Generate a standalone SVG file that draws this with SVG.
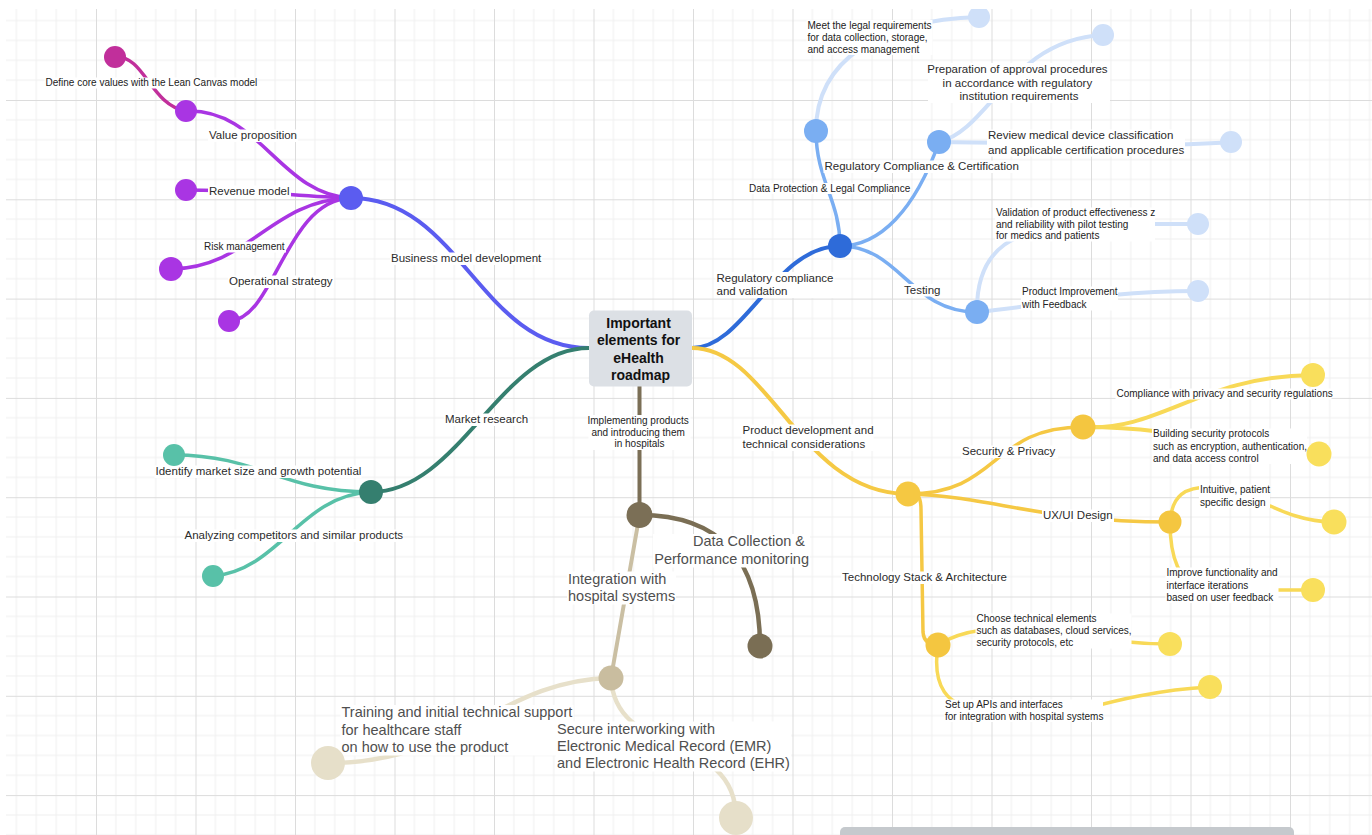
<svg xmlns="http://www.w3.org/2000/svg" width="1372" height="835" viewBox="0 0 1372 835">
  <defs>
    <pattern id="grid" patternUnits="userSpaceOnUse" x="-3.5" y="0.7" width="99.5" height="99.3">
      <path d="M19.9 0V99.3M39.8 0V99.3M59.7 0V99.3M79.6 0V99.3M0 19.86H99.5M0 39.72H99.5M0 59.58H99.5M0 79.44H99.5" stroke="#efefef" stroke-width="1" fill="none"/>
      <path d="M0.5 0V99.3M0 0.5H99.5" stroke="#dcdcdc" stroke-width="1" fill="none"/>
    </pattern>
    <clipPath id="canvas">
      <rect x="6" y="9" width="1366" height="826"/>
    </clipPath>
    <style>
      .c { fill: none; stroke-linecap: round; stroke-linejoin: round; }
      .bg { fill: #ffffff; }
      text { font-family: "Liberation Sans", Arial, sans-serif; }
      .s { font-size: 10px; fill: #222222; }
      .m { font-size: 11.5px; fill: #2b2b2b; }
      .l { font-size: 14.5px; fill: #4f4f4f; }
      .root { font-size: 14px; font-weight: bold; fill: #111111; text-anchor: middle; }
      .mid { text-anchor: middle; }
      .end { text-anchor: end; }
    </style>
  </defs>

  <rect width="1372" height="835" fill="#ffffff"/>
  <rect x="6" y="9" width="1366" height="826" fill="url(#grid)"/>

  <g clip-path="url(#canvas)">
    <!-- branch connectors -->
    <g id="connectors">
      <!-- root to main topics -->
      <path class="c" d="M589,348 C480,348 460,198 351,198" stroke="#5b5cf0" stroke-width="4"/>
      <path class="c" d="M589,348 C500,348 460,492 371,492" stroke="#357f6f" stroke-width="4"/>
      <path class="c" d="M639.5,386 L639.5,515" stroke="#7b6f56" stroke-width="4"/>
      <path class="c" d="M692,348 C745,348 775,246 840,246" stroke="#2e6bd9" stroke-width="4"/>
      <path class="c" d="M692,348 C770,348 800,494 908,494" stroke="#f5c944" stroke-width="4"/>

      <!-- business model -->
      <path class="c" d="M351,198 C280,195 260,108 186,111" stroke="#a935e3" stroke-width="3.5"/>
      <path class="c" d="M351,198 C300,197 260,190 186,190" stroke="#a935e3" stroke-width="3.5"/>
      <path class="c" d="M351,198 C270,200 250,268 171,269" stroke="#a935e3" stroke-width="3.5"/>
      <path class="c" d="M351,198 C285,200 275,320 229,321" stroke="#a935e3" stroke-width="3.5"/>
      <path class="c" d="M186,111 C150,105 145,55 115,57" stroke="#c12f9b" stroke-width="3.5"/>

      <!-- market research -->
      <path class="c" d="M371,492 C280,492 260,455 174,455" stroke="#58c1a8" stroke-width="3.5"/>
      <path class="c" d="M371,492 C300,495 280,570 213,576" stroke="#58c1a8" stroke-width="3.5"/>

      <!-- implementation in hospitals -->
      <path class="c" d="M639.5,515 C720,515 760,560 760,646" stroke="#7a6e54" stroke-width="4.5"/>
      <path class="c" d="M639.5,515 Q625,600 611,678" stroke="#cabfa3" stroke-width="4"/>
      <path class="c" d="M611,678 C500,680 460,763 328,763" stroke="#e7e0ca" stroke-width="4.5"/>
      <path class="c" d="M611,678 C615,760 736,730 736,818" stroke="#e7e0ca" stroke-width="4.5"/>

      <!-- regulatory compliance -->
      <path class="c" d="M840,246 C840,200 816,180 816,131" stroke="#7aaef2" stroke-width="3.5"/>
      <path class="c" d="M840,246 C880,246 915,210 939,142" stroke="#7aaef2" stroke-width="3.5"/>
      <path class="c" d="M840,246 C900,246 910,312 977,312" stroke="#7aaef2" stroke-width="3.5"/>
      <path class="c" d="M816,131 C816,60 880,20 979,17" stroke="#cfe0f9" stroke-width="4"/>
      <path class="c" d="M939,142 C990,130 1010,40 1103,35" stroke="#cfe0f9" stroke-width="4"/>
      <path class="c" d="M939,142 C1050,143 1150,148 1231,142" stroke="#cfe0f9" stroke-width="4"/>
      <path class="c" d="M977,312 C976,250 1010,224 1100,224 L1198,224" stroke="#cfe0f9" stroke-width="4"/>
      <path class="c" d="M977,312 C1050,305 1100,291 1198,291" stroke="#cfe0f9" stroke-width="4"/>

      <!-- product development -->
      <path class="c" d="M908,494 C1000,494 990,427 1083,427" stroke="#f5c844" stroke-width="3.5"/>
      <path class="c" d="M908,494 C990,496 1040,522 1170,522" stroke="#f5c844" stroke-width="3.5"/>
      <path class="c" d="M914,494 Q921,494 921,510 L923,632 Q924,645 938,645" stroke="#f5c844" stroke-width="3.5"/>
      <path class="c" d="M1083,427 C1160,432 1200,376 1313,375" stroke="#f8d957" stroke-width="4"/>
      <path class="c" d="M1083,427 C1200,427 1220,454 1319,454" stroke="#f8d957" stroke-width="4"/>
      <path class="c" d="M1170,522 C1172,495 1185,487 1210,487 C1250,487 1280,522 1334,522" stroke="#f8d957" stroke-width="3.5"/>
      <path class="c" d="M1170,522 C1170,560 1180,580 1200,590 L1313,590" stroke="#f8d957" stroke-width="3.5"/>
      <path class="c" d="M938,645 C960,630 1000,625 1040,630 C1090,637 1120,644 1170,644" stroke="#f8d957" stroke-width="3.5"/>
      <path class="c" d="M938,645 C932,685 945,708 985,710 L1080,710 C1100,705 1150,690 1210,687" stroke="#f8d957" stroke-width="3.5"/>
    </g>

    <!-- root topic -->
    <g id="root">
      <rect x="589" y="310.5" width="103" height="76" rx="5" fill="#dce0e5"/>
      <text class="root">
        <tspan x="640.5" y="327.5">Important</tspan>
        <tspan x="640.5" y="345">elements for</tspan>
        <tspan x="640.5" y="362.5">eHealth</tspan>
        <tspan x="640.5" y="380">roadmap</tspan>
      </text>
    </g>

    <!-- business model development -->
    <g id="business">
      <rect class="bg" x="390" y="252.5" width="152" height="12.5"/>
      <text class="m" x="391" y="262">Business model development</text>
      <circle cx="351" cy="198" r="12" fill="#5b5cf0"/>
    </g>
    <g id="value-proposition">
      <rect class="bg" x="208" y="129.5" width="90" height="12.5"/>
      <text class="m" x="209" y="139">Value proposition</text>
      <circle cx="186" cy="111" r="11" fill="#a935e3"/>
    </g>
    <g id="lean-canvas">
      <rect class="bg" x="44.5" y="77.5" width="213" height="11"/>
      <text class="s" x="45.5" y="86">Define core values with the Lean Canvas model</text>
      <circle cx="115" cy="57" r="11" fill="#c12f9b"/>
    </g>
    <g id="revenue-model">
      <rect class="bg" x="208" y="185.5" width="83" height="12.5"/>
      <text class="m" x="209" y="195">Revenue model</text>
      <circle cx="186" cy="190" r="11" fill="#a935e3"/>
    </g>
    <g id="risk-management">
      <rect class="bg" x="203" y="241.5" width="83" height="11"/>
      <text class="s" x="204" y="250">Risk management</text>
      <circle cx="171" cy="269" r="12" fill="#a935e3"/>
    </g>
    <g id="operational-strategy">
      <rect class="bg" x="228" y="275.5" width="106" height="12.5"/>
      <text class="m" x="229" y="285">Operational strategy</text>
      <circle cx="229" cy="321" r="11" fill="#a935e3"/>
    </g>

    <!-- market research -->
    <g id="market-research">
      <rect class="bg" x="444" y="413.5" width="85" height="12.5"/>
      <text class="m" x="445" y="423">Market research</text>
      <circle cx="371" cy="492" r="12" fill="#357f6f"/>
    </g>
    <g id="market-size">
      <rect class="bg" x="154.5" y="465.5" width="207" height="12.5"/>
      <text class="m" x="155.5" y="475">Identify market size and growth potential</text>
      <circle cx="174" cy="455" r="11" fill="#58c1a8"/>
    </g>
    <g id="competitors">
      <rect class="bg" x="183.5" y="529.5" width="219" height="12.5"/>
      <text class="m" x="184.5" y="539">Analyzing competitors and similar products</text>
      <circle cx="213" cy="576" r="11" fill="#58c1a8"/>
    </g>

    <!-- implementation in hospitals -->
    <g id="implementation">
      <rect class="bg" x="588.5" y="415" width="102" height="35"/>
      <text class="s mid">
        <tspan x="639.5" y="423.5">Implementing products</tspan>
        <tspan x="639.5" y="435.5">and introducing them</tspan>
        <tspan x="639.5" y="447">in hospitals</tspan>
      </text>
      <circle cx="639.5" cy="515" r="13" fill="#7b6f56"/>
    </g>
    <g id="data-collection">
      <rect class="bg" x="653" y="534" width="157" height="33.5"/>
      <text class="l end">
        <tspan x="809" y="546">Data Collection &amp;</tspan>
        <tspan x="809" y="564">Performance monitoring</tspan>
      </text>
      <circle cx="760" cy="646" r="12.5" fill="#7a6e54"/>
    </g>
    <g id="hospital-integration">
      <rect class="bg" x="567" y="571.5" width="109" height="33"/>
      <text class="l">
        <tspan x="568" y="583.5">Integration with</tspan>
        <tspan x="568" y="601">hospital systems</tspan>
      </text>
      <circle cx="611" cy="678" r="12.5" fill="#c9bd9f"/>
    </g>
    <g id="staff-training">
      <rect class="bg" x="340.5" y="705" width="233" height="50.5"/>
      <text class="l">
        <tspan x="341.5" y="717">Training and initial technical support</tspan>
        <tspan x="341.5" y="734.5">for healthcare staff</tspan>
        <tspan x="341.5" y="752">on how to use the product</tspan>
      </text>
      <circle cx="328" cy="763" r="17" fill="#e6dfc9"/>
    </g>
    <g id="emr-ehr">
      <rect class="bg" x="556" y="721.5" width="235" height="50"/>
      <text class="l">
        <tspan x="557" y="733.5">Secure interworking with</tspan>
        <tspan x="557" y="750.5">Electronic Medical Record (EMR)</tspan>
        <tspan x="557" y="768">and Electronic Health Record (EHR)</tspan>
      </text>
      <circle cx="736" cy="818" r="17" fill="#e6dfc9"/>
    </g>

    <!-- regulatory compliance and validation -->
    <g id="regulatory">
      <rect class="bg" x="715.5" y="272" width="119" height="26"/>
      <text class="m">
        <tspan x="716.5" y="281.5">Regulatory compliance</tspan>
        <tspan x="716.5" y="295">and validation</tspan>
      </text>
      <circle cx="840" cy="246" r="12" fill="#2e6bd9"/>
    </g>
    <g id="data-protection">
      <rect class="bg" x="748" y="183" width="162" height="11"/>
      <text class="s" x="749" y="191.5">Data Protection &amp; Legal Compliance</text>
      <circle cx="816" cy="131" r="12" fill="#7aaef2"/>
    </g>
    <g id="legal-requirements">
      <rect class="bg" x="806.5" y="20" width="126" height="35"/>
      <text class="s">
        <tspan x="807.5" y="28.5">Meet the legal requirements</tspan>
        <tspan x="807.5" y="40.5">for data collection, storage,</tspan>
        <tspan x="807.5" y="52.5">and access management</tspan>
      </text>
      <circle cx="979" cy="17" r="11" fill="#cfe0f9"/>
    </g>
    <g id="certification">
      <rect class="bg" x="823.5" y="160.5" width="196" height="12.5"/>
      <text class="m" x="824.5" y="170">Regulatory Compliance &amp; Certification</text>
      <circle cx="939" cy="142" r="12" fill="#7aaef2"/>
    </g>
    <g id="approval-procedures">
      <rect class="bg" x="928" y="63" width="182" height="40"/>
      <text class="m mid">
        <tspan x="1019" y="72.5">Preparation of approval procedures</tspan>
        <tspan x="1019" y="86.5">in accordance with regulatory</tspan>
        <tspan x="1019" y="100">institution requirements</tspan>
      </text>
      <circle cx="1103" cy="35" r="11" fill="#cfe0f9"/>
    </g>
    <g id="device-classification">
      <rect class="bg" x="987" y="129.5" width="198" height="27"/>
      <text class="m">
        <tspan x="988" y="139">Review medical device classification</tspan>
        <tspan x="988" y="153.5">and applicable certification procedures</tspan>
      </text>
      <circle cx="1231" cy="142" r="11" fill="#cfe0f9"/>
    </g>
    <g id="testing">
      <rect class="bg" x="903" y="284" width="40" height="12.5"/>
      <text class="m" x="904" y="293.5">Testing</text>
      <circle cx="977" cy="312" r="12" fill="#7aaef2"/>
    </g>
    <g id="pilot-validation">
      <rect class="bg" x="995" y="207.5" width="160" height="34"/>
      <text class="s">
        <tspan x="996" y="216">Validation of product effectiveness z</tspan>
        <tspan x="996" y="227.5">and reliability with pilot testing</tspan>
        <tspan x="996" y="239">for medics and patients</tspan>
      </text>
      <circle cx="1198" cy="224" r="11" fill="#cfe0f9"/>
    </g>
    <g id="feedback-improvement">
      <rect class="bg" x="1021" y="286.5" width="97" height="24"/>
      <text class="s">
        <tspan x="1022" y="295">Product Improvement</tspan>
        <tspan x="1022" y="308">with Feedback</tspan>
      </text>
      <circle cx="1198" cy="291" r="11" fill="#cfe0f9"/>
    </g>

    <!-- product development and technical considerations -->
    <g id="product-development">
      <rect class="bg" x="741.5" y="424.5" width="132" height="26.5"/>
      <text class="m">
        <tspan x="742.5" y="434">Product development and</tspan>
        <tspan x="742.5" y="447.5">technical considerations</tspan>
      </text>
      <circle cx="908" cy="494" r="12.5" fill="#f5c842"/>
    </g>
    <g id="security-privacy">
      <rect class="bg" x="961" y="445.5" width="97" height="12.5"/>
      <text class="m" x="962" y="455">Security &amp; Privacy</text>
      <circle cx="1083" cy="427" r="12.5" fill="#f4c640"/>
    </g>
    <g id="privacy-regulations">
      <rect class="bg" x="1115.5" y="388.5" width="216" height="11"/>
      <text class="s" x="1116.5" y="397">Compliance with privacy and security regulations</text>
      <circle cx="1313" cy="375" r="12" fill="#f9df5c"/>
    </g>
    <g id="security-protocols">
      <rect class="bg" x="1152" y="428.5" width="155" height="35.5"/>
      <text class="s">
        <tspan x="1153" y="437">Building security protocols</tspan>
        <tspan x="1153" y="449.5">such as encryption, authentication,</tspan>
        <tspan x="1153" y="461.5">and data access control</tspan>
      </text>
      <circle cx="1319" cy="454" r="12.5" fill="#f9df5c"/>
    </g>
    <g id="ux-ui">
      <rect class="bg" x="1042" y="509.5" width="72" height="12.5"/>
      <text class="m" x="1043" y="519">UX/UI Design</text>
      <circle cx="1170" cy="522" r="11.5" fill="#f4c640"/>
    </g>
    <g id="patient-design">
      <rect class="bg" x="1199" y="484.5" width="71" height="23.5"/>
      <text class="s">
        <tspan x="1200" y="493">Intuitive, patient</tspan>
        <tspan x="1200" y="505.5">specific design</tspan>
      </text>
      <circle cx="1334" cy="522" r="12.5" fill="#f9df5c"/>
    </g>
    <g id="interface-iterations">
      <rect class="bg" x="1165.5" y="567.5" width="113" height="35.5"/>
      <text class="s">
        <tspan x="1166.5" y="576">Improve functionality and</tspan>
        <tspan x="1166.5" y="588.5">interface iterations</tspan>
        <tspan x="1166.5" y="600.5">based on user feedback</tspan>
      </text>
      <circle cx="1313" cy="590" r="12" fill="#f9df5c"/>
    </g>
    <g id="tech-stack">
      <rect class="bg" x="841" y="571.5" width="166" height="12.5"/>
      <text class="m" x="842" y="581">Technology Stack &amp; Architecture</text>
      <circle cx="938" cy="645" r="12.5" fill="#f4c640"/>
    </g>
    <g id="technical-elements">
      <rect class="bg" x="975.5" y="613.5" width="156" height="35"/>
      <text class="s">
        <tspan x="976.5" y="622">Choose technical elements</tspan>
        <tspan x="976.5" y="634">such as databases, cloud services,</tspan>
        <tspan x="976.5" y="646">security protocols, etc</tspan>
      </text>
      <circle cx="1170" cy="644" r="12" fill="#f9df5c"/>
    </g>
    <g id="apis-interfaces">
      <rect class="bg" x="944" y="699.5" width="159" height="22.5"/>
      <text class="s">
        <tspan x="945" y="708">Set up APIs and interfaces</tspan>
        <tspan x="945" y="719.5">for integration with hospital systems</tspan>
      </text>
      <circle cx="1210" cy="687" r="12" fill="#f9df5c"/>
    </g>
  </g>

  <!-- horizontal scrollbar -->
  <rect x="840" y="827" width="454" height="12" rx="5" fill="#c5c9cd"/>
</svg>
